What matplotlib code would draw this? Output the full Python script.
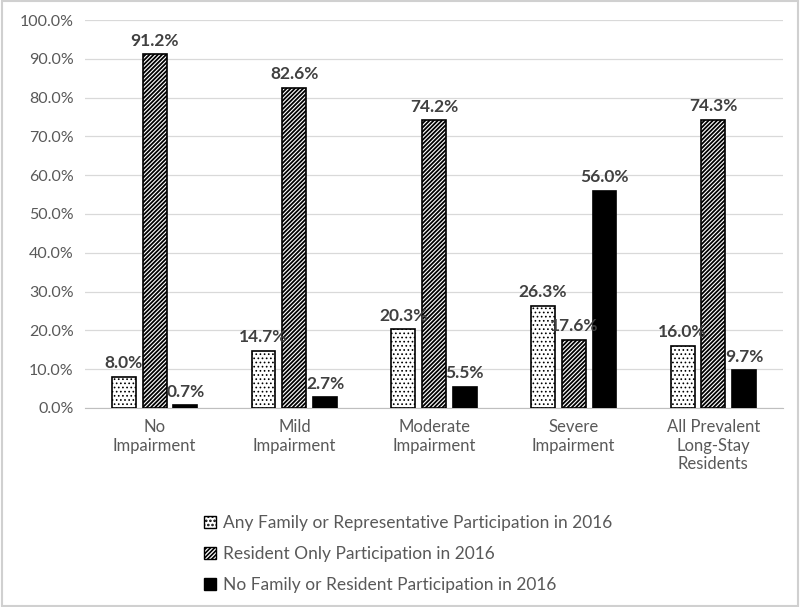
import matplotlib
matplotlib.use("Agg")
import matplotlib.pyplot as plt
from matplotlib.patches import Patch, Rectangle
import numpy as np

plt.rcParams['font.family'] = ['Lato', 'DejaVu Sans']
plt.rcParams['hatch.linewidth'] = 1.2

categories = ["No\nImpairment", "Mild\nImpairment", "Moderate\nImpairment",
              "Severe\nImpairment", "All Prevalent\nLong-Stay\nResidents"]
any_family = [8.0, 14.7, 20.3, 26.3, 16.0]
resident_only = [91.2, 82.6, 74.2, 17.6, 74.3]
no_participation = [0.7, 2.7, 5.5, 56.0, 9.7]
series_names = ["Any Family or Representative Participation in 2016",
                "Resident Only Participation in 2016",
                "No Family or Resident Participation in 2016"]

fig = plt.figure(figsize=(8, 6.07), dpi=100)
ax = fig.add_axes([0.106, 0.328, 0.873, 0.639])

x = np.arange(len(categories))
w = 0.17
off = 0.22
styles = [dict(facecolor="white", hatch="...."),
          dict(facecolor="white", hatch="////////"),
          dict(facecolor="black", hatch=None)]
hatch_lw = [0.7, 1.3, 1.0]
data = [any_family, resident_only, no_participation]


def set_hlw(p, lw):
    try:
        p.set_hatch_linewidth(lw)
    except AttributeError:
        pass


handles = []
for i, (vals, st) in enumerate(zip(data, styles)):
    pos = x + (i - 1) * off
    bars = ax.bar(pos, vals, w, edgecolor="black", linewidth=1.2, zorder=3, **st)
    for b, v in zip(bars, vals):
        set_hlw(b, hatch_lw[i])
        ax.annotate(f"{v:.1f}%", (b.get_x() + b.get_width() / 2, v),
                    xytext=(0, 4), textcoords="offset points",
                    ha="center", va="bottom", fontsize=12.5,
                    fontweight="bold", color="#404040", zorder=4)
    h = Patch(edgecolor="black", linewidth=1.0, **st)
    set_hlw(h, hatch_lw[i])
    handles.append(h)

ax.set_xlim(-0.5, len(categories) - 0.5)
ax.set_ylim(0, 100)
ax.set_yticks(np.arange(0, 101, 10))
ax.set_yticklabels([f"{t:.1f}%" for t in range(0, 101, 10)])
ax.set_xticks(x)
ax.set_xticklabels(categories)
ax.tick_params(axis="y", length=0, labelsize=11.5, labelcolor="#595959", pad=8)
ax.tick_params(axis="x", length=0, labelsize=12, labelcolor="#595959", pad=8)
ax.grid(axis="y", color="#d9d9d9", linewidth=0.9, zorder=0)
for s in ["top", "right", "left"]:
    ax.spines[s].set_visible(False)
ax.spines["bottom"].set_color("#bfbfbf")

leg = fig.legend(handles, series_names, loc="upper left",
                 bbox_to_anchor=(0.235, 0.177), frameon=False,
                 fontsize=12.5, handlelength=0.7, handleheight=0.7,
                 handletextpad=0.4, labelspacing=0.85, labelcolor="#595959")
for h in leg.legend_handles:
    pass

fig.patches.append(Rectangle((0.002, 0.002), 0.996, 0.996, transform=fig.transFigure,
                             fill=False, edgecolor="#d0d0d0", linewidth=1.5))

fig.savefig("out.png", dpi=100)
